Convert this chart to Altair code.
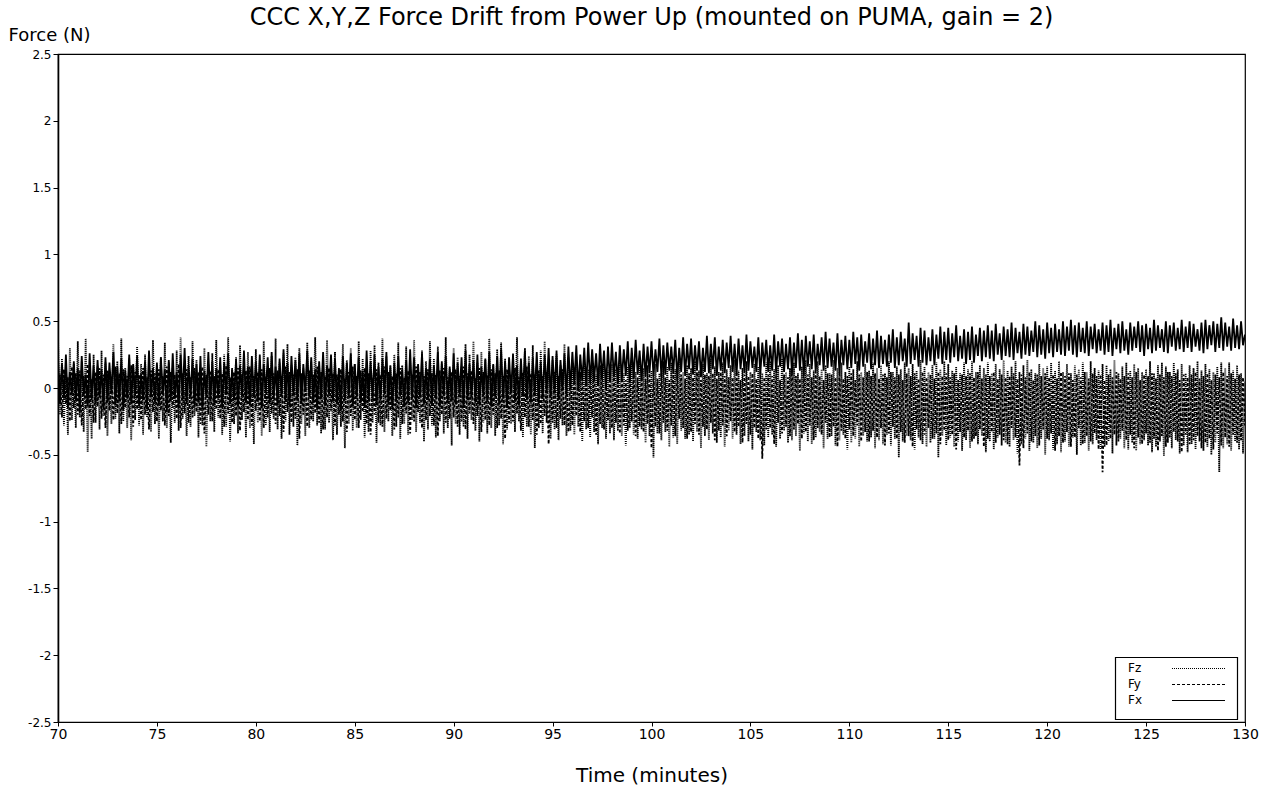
import altair as alt
import numpy as np
import pandas as pd

# sampling grid (minutes)
T_START = 70.0
T_STEP = 0.1

# Force readings in hundredths of a newton (cN), one row per minute (70..129) + final sample
FX_CN = [
    22, -12, 18, -8, 25, -15, 12, -5, 20, -10,
    15, -18, 24, -6, 10, -14, 26, -9, 17, -12,
    21, -7, 14, -16, 23, -11, 19, -4, 27, -13,
    16, -10, 22, -17, 13, -8, 25, -12, 18, -6,
    24, -14, 11, -9, 20, -16, 28, -7, 15, -11,
    19, -13, 23, -5, 14, -18, 21, -10, 26, -8,
    12, -15, 25, -9, 30, -12, 17, -6, 22, -14,
    18, -11, 24, -16, 13, -7, 27, -10, 20, -13,
    15, -8, 23, -15, 19, -5, 26, -12, 14, -9,
    21, -14, 17, -6, 28, -11, 16, -13, 24, -7,
    20, -10, 25, -15, 18, -4, 23, -12, 27, -8,
    16, -13, 22, -6, 29, -10, 19, -14, 24, -5,
    21, -9, 26, -12, 18, -3, 28, -7, 23, -11,
    14, -16, 20, -8, 27, -13, 17, -5, 25, -10,
    22, -12, 15, -17, 24, -9, 19, -6, 26, -14,
    18, -7, 23, -11, 13, -15, 28, -10, 20, -8,
    25, -13, 16, -9, 22, -5, 27, -12, 17, -16,
    19, -10, 24, -6, 14, -14, 21, -11, 29, -8,
    23, -15, 18, -7, 26, -12, 15, -9, 22, -13,
    17, -8, 27, -14, 20, -6, 24, -11, 16, -10,
    26, -12, 19, -5, 23, -15, 28, -9, 18, -7,
    21, -11, 25, -13, 16, -6, 22, -10, 27, -14,
    18, -7, 24, -12, 29, -8, 20, -15, 23, -4,
    25, -10, 17, -13, 22, -6, 28, -9, 19, -11,
    23, -5, 27, -12, 20, -8, 25, -3, 30, -7,
    24, -4, 28, -9, 21, -2, 26, -6, 31, -1,
    27, 3, 32, -2, 25, 5, 30, 1, 34, 4,
    29, 6, 26, 2, 33, 7, 28, 0, 31, 5,
    34, 8, 27, 3, 32, 6, 29, 9, 35, 4,
    30, 7, 36, 10, 28, 5, 33, 8, 31, 11,
    35, 9, 29, 12, 37, 8, 32, 10, 34, 13,
    31, 11, 36, 7, 30, 12, 38, 9, 33, 14,
    37, 10, 32, 13, 35, 8, 30, 12, 39, 11,
    33, 14, 38, 9, 31, 13, 36, 11, 34, 15,
    39, 12, 33, 10, 37, 14, 32, 11, 40, 13,
    35, 15, 31, 12, 38, 10, 34, 16, 36, 12,
    32, 13, 40, 11, 35, 16, 37, 12, 33, 14,
    38, 11, 34, 15, 41, 13, 36, 10, 39, 16,
    35, 14, 40, 12, 33, 17, 38, 13, 42, 15,
    37, 16, 34, 13, 41, 11, 36, 17, 39, 14,
    36, 15, 42, 18, 38, 13, 40, 16, 35, 19,
    41, 14, 37, 17, 43, 15, 39, 18, 36, 16,
    40, 19, 44, 15, 38, 17, 42, 20, 37, 16,
    49, 18, 41, 21, 39, 16, 45, 19, 43, 17,
    38, 20, 44, 17, 40, 22, 46, 18, 42, 21,
    45, 19, 41, 23, 47, 20, 39, 22, 44, 18,
    42, 21, 46, 19, 40, 24, 45, 20, 43, 23,
    47, 22, 43, 20, 48, 25, 41, 21, 46, 24,
    44, 23, 49, 21, 45, 26, 42, 22, 48, 25,
    46, 24, 43, 27, 50, 23, 47, 25, 44, 22,
    49, 26, 45, 23, 48, 27, 44, 25, 50, 24,
    46, 28, 51, 25, 47, 23, 49, 27, 45, 26,
    50, 24, 46, 29, 48, 26, 44, 28, 49, 25,
    47, 27, 51, 24, 45, 29, 48, 26, 50, 28,
    44, 25, 49, 28, 46, 30, 50, 27, 47, 24,
    48, 29, 45, 26, 51, 28, 47, 30, 44, 27,
    50, 26, 47, 31, 49, 28, 45, 29, 51, 27,
    46, 30, 50, 27, 48, 31, 44, 28, 49, 26,
    51, 29, 47, 32, 50, 27, 48, 30, 53, 28,
    49, 31, 46, 28, 52, 30, 47, 29, 50, 32,
    40,
]

FY_CN = [
    -18, 10, -22, 14, -12, 8, -25, 16, -15, 11,
    -20, 13, -28, 9, -16, 18, -21, 7, -26, 12,
    -14, 15, -23, 10, -30, 13, -17, 8, -24, 16,
    -19, 11, -27, 14, -15, 9, -22, 17, -29, 12,
    -16, 10, -24, 15, -20, 8, -31, 13, -18, 11,
    -25, 14, -17, 9, -28, 16, -21, 12, -15, 10,
    -23, 18, -30, 11, -19, 14, -26, 8, -22, 15,
    -18, 12, -27, 16, -34, 10, -20, 13, -25, 9,
    -16, 14, -23, 11, -29, 17, -19, 8, -26, 12,
    -21, 15, -32, 10, -18, 13, -24, 16, -28, 9,
    -17, 12, -25, 14, -30, 8, -22, 15, -19, 11,
    -27, 13, -21, 9, -33, 16, -18, 12, -26, 10,
    -23, 14, -38, 11, -20, 8, -29, 13, -24, 10,
    -19, 16, -26, 12, -31, 9, -22, 15, -17, 11,
    -28, 10, -20, 14, -25, 7, -33, 12, -21, 16,
    -24, 9, -30, 13, -18, 15, -27, 11, -35, 8,
    -20, 14, -26, 10, -29, 16, -23, 12, -17, 9,
    -31, 11, -22, 15, -27, 8, -19, 13, -34, 10,
    -25, 16, -18, 12, -30, 9, -24, 14, -21, 11,
    -28, 10, -36, 13, -20, 15, -26, 8, -23, 12,
    -22, 14, -29, 9, -25, 16, -31, 11, -19, 13,
    -27, 8, -21, 15, -33, 12, -24, 10, -28, 14,
    -20, 11, -30, 13, -23, 9, -38, 14, -26, 10,
    -25, 15, -19, 8, -32, 12, -22, 16, -29, 11,
    -24, 10, -35, 13, -27, 9, -21, 12, -42, 8,
    -26, 12, -30, 9, -23, 14, -28, 7, -33, 11,
    -28, 9, -21, 12, -33, 7, -25, 10, -30, 6,
    -22, 11, -35, 8, -27, 12, -31, 5, -24, 9,
    -30, 10, -26, 7, -34, 11, -28, 6, -32, 9,
    -25, 12, -36, 8, -29, 10, -33, 7, -27, 11,
    -45, 10, -29, 7, -34, 11, -26, 8, -32, 6,
    -28, 12, -36, 9, -23, 10, -30, 7, -38, 11,
    -33, 8, -27, 12, -35, 6, -29, 10, -31, 9,
    -26, 11, -39, 7, -32, 12, -28, 9, -36, 8,
    -25, 8, -33, 12, -29, 6, -41, 10, -27, 9,
    -35, 11, -30, 7, -38, 12, -53, 8, -31, 10,
    -30, 9, -42, 11, -26, 6, -34, 10, -29, 8,
    -36, 12, -31, 9, -27, 7, -38, 11, -33, 10,
    -28, 8, -39, 12, -30, 9, -35, 6, -26, 11,
    -37, 10, -29, 8, -44, 12, -32, 7, -38, 9,
    -31, 11, -36, 6, -28, 10, -40, 8, -33, 12,
    -40, 9, -32, 11, -37, 7, -30, 10, -43, 8,
    -34, 12, -29, 8, -38, 10, -33, 6, -41, 11,
    -36, 9, -44, 11, -31, 7, -39, 12, -35, 8,
    -30, 10, -38, 7, -34, 12, -42, 9, -32, 11,
    -39, 8, -35, 11, -46, 6, -33, 10, -37, 9,
    -32, 11, -40, 8, -36, 12, -31, 7, -44, 10,
    -38, 9, -33, 12, -41, 7, -35, 10, -39, 8,
    -42, 9, -30, 11, -37, 7, -58, 10, -45, 8,
    -34, 12, -40, 6, -36, 10, -43, 9, -31, 11,
    -38, 8, -34, 10, -47, 7, -36, 12, -41, 9,
    -33, 11, -44, 6, -37, 10, -30, 8, -42, 12,
    -36, 7, -40, 11, -34, 9, -46, 10, -63, 6,
    -43, 10, -38, 8, -35, 12, -40, 7, -32, 9,
    -39, 11, -35, 8, -45, 12, -37, 6, -42, 10,
    -34, 9, -41, 11, -38, 7, -47, 10, -36, 8,
    -44, 12, -37, 9, -33, 11, -40, 6, -48, 10,
    -35, 8, -42, 10, -39, 12, -36, 7, -45, 9,
    -41, 11, -38, 6, -46, 10, -34, 8, -43, 12,
    -37, 9, -44, 11, -35, 7, -41, 10, -39, 8,
    -28,
]

FZ_CN = [
    38, -20, 22, -28, 15, -35, 30, -24, 18, -30,
    35, -22, 20, -33, 37, -48, 14, -38, 25, -26,
    16, -31, 28, -21, 19, -36, 13, -27, 33, -23,
    20, -34, 37, -25, 15, -30, 22, -39, 17, -24,
    31, -28, 18, -35, 25, -22, 14, -33, 36, -27,
    17, -38, 23, -25, 34, -30, 19, -41, 15, -26,
    28, -32, 38, -23, 16, -36, 24, -29, 35, -21,
    21, -37, 14, -28, 30, -44, 18, -25, 26, -33,
    36, -22, 17, -35, 25, -29, 38, -40, 15, -27,
    23, -34, 32, -24, 18, -37, 27, -30, 14, -42,
    29, -26, 21, -36, 35, -28, 16, -33, 24, -23,
    37, -31, 19, -38, 26, -25, 33, -35, 17, -29,
    23, -43, 30, -27, 15, -36, 34, -30, 20, -25,
    38, -28, 16, -34, 24, -31, 36, -26, 19, -39,
    27, -35, 14, -29, 33, -45, 21, -27, 30, -32,
    18, -30, 35, -24, 22, -37, 15, -33, 28, -26,
    32, -41, 19, -28, 37, -33, 24, -25, 16, -36,
    25, -29, 34, -38, 17, -27, 31, -35, 21, -24,
    36, -33, 15, -26, 28, -40, 20, -31, 35, -28,
    22, -37, 31, -25, 18, -34, 38, -30, 14, -43,
    30, -27, 23, -35, 16, -29, 33, -38, 25, -24,
    35, -32, 19, -40, 27, -26, 21, -34, 37, -30,
    17, -36, 29, -28, 34, -42, 22, -31, 15, -27,
    26, -33, 38, -25, 20, -37, 30, -29, 24, -35,
    32, -45, 16, -30, 28, -34, 35, -26, 19, -38,
    21, -31, 25, -39, 17, -28, 33, -36, 23, -32,
    16, -35, 24, -29, 12, -40, 19, -31, 14, -37,
    21, -33, 10, -42, 17, -30, 23, -38, 13, -34,
    18, -39, 14, -32, 20, -36, 11, -43, 16, -30,
    22, -35, 12, -38, 19, -31, 15, -41, 17, -36,
    13, -52, 18, -34, 11, -39, 20, -33, 16, -44,
    19, -37, 14, -42, 21, -32, 12, -38, 17, -35,
    15, -40, 20, -33, 13, -45, 18, -36, 11, -39,
    22, -34, 16, -41, 12, -37, 19, -44, 14, -32,
    17, -38, 21, -35, 13, -42, 15, -36, 20, -40,
    12, -46, 18, -33, 16, -39, 11, -43, 19, -37,
    20, -35, 14, -44, 17, -38, 22, -32, 12, -41,
    15, -39, 19, -36, 11, -47, 16, -34, 21, -40,
    18, -42, 13, -37, 20, -33, 14, -45, 17, -38,
    11, -36, 21, -43, 15, -39, 19, -35, 12, -46,
    16, -41, 14, -38, 20, -44, 12, -36, 18, -40,
    13, -37, 19, -45, 15, -39, 17, -42, 11, -35,
    20, -43, 12, -38, 16, -52, 14, -40, 19, -36,
    15, -39, 18, -46, 13, -37, 21, -42, 16, -44,
    12, -41, 17, -38, 19, -52, 14, -36, 20, -43,
    18, -37, 13, -44, 16, -40, 11, -47, 19, -39,
    14, -45, 20, -38, 12, -42, 17, -36, 15, -48,
    19, -40, 11, -46, 18, -37, 14, -43, 21, -41,
    13, -44, 16, -39, 20, -49, 12, -42, 17, -38,
    21, -47, 14, -41, 11, -45, 18, -38, 15, -50,
    16, -39, 19, -46, 13, -42, 20, -48, 12, -40,
    18, -44, 11, -37, 17, -50, 14, -43, 19, -41,
    12, -47, 20, -42, 15, -39, 13, -46, 18, -44,
    17, -40, 14, -49, 21, -43, 11, -38, 16, -45,
    19, -46, 13, -41, 18, -47, 15, -42, 12, -39,
    14, -43, 20, -48, 11, -44, 17, -40, 19, -51,
    16, -41, 12, -45, 19, -39, 14, -49, 18, -43,
    11, -48, 17, -42, 15, -46, 20, -40, 13, -47,
    18, -44, 14, -50, 12, -41, 16, -63, 19, -45,
    15, -42, 19, -47, 13, -40, 17, -46, 11, -49,
    5,
]

SERIES = ["Fz", "Fy", "Fx"]
DASHES = [[1, 1], [3, 2], [1, 0]]
X_TICKS = [70, 75, 80, 85, 90, 95, 100, 105, 110, 115, 120, 125, 130]
Y_TICKS = [-2.5, -2, -1.5, -1, -0.5, 0, 0.5, 1, 1.5, 2, 2.5]

FONT = "DejaVu Sans"
PLOT_W, PLOT_H = 1187, 668

frames = []
for name, vals in [("Fz", FZ_CN), ("Fy", FY_CN), ("Fx", FX_CN)]:
    t = np.round(T_START + T_STEP * np.arange(len(vals)), 1)
    frames.append(pd.DataFrame({"t": t, "v": np.array(vals) / 100.0, "s": name}))
df = pd.concat(frames, ignore_index=True)

lines = (
    alt.Chart(df)
    .mark_line(color="black", strokeWidth=1.8, clip=True)
    .encode(
        x=alt.X(
            "t:Q",
            scale=alt.Scale(domain=[70, 130], nice=False, zero=False),
            axis=alt.Axis(
                values=X_TICKS,
                title="Time (minutes)",
                titleFontSize=20,
                titleFontWeight="normal",
                titleBaseline="alphabetic",
                titleAnchor="middle",
                titleY=59,
                labelFontSize=14,
                labelPadding=1,
                tickSize=4,
                labelFlush=False,
            ),
        ),
        y=alt.Y(
            "v:Q",
            scale=alt.Scale(domain=[-2.5, 2.5], nice=False, zero=False),
            axis=alt.Axis(
                values=Y_TICKS,
                title="Force (N)",
                titleAngle=0,
                titleAlign="left",
                titleBaseline="alphabetic",
                titleFontSize=18,
                titleFontWeight="normal",
                titleX=-50,
                titleY=-14,
                labelFontSize=12,
                labelPadding=2,
                tickSize=5,
                labelFlush=False,
                domainWidth=1.6,
                labelExpr="datum.value + ''",
            ),
        ),
        strokeDash=alt.StrokeDash(
            "s:N", scale=alt.Scale(domain=SERIES, range=DASHES), legend=None
        ),
    )
)

# legend box drawn in the lower-right corner of the plot
LEG_X0, LEG_X1, LEG_Y0, LEG_Y1 = 1057, 1179, 603, 665
legend_layers = [
    alt.Chart(pd.DataFrame({"k": [0]}))
    .mark_rect(fill="white", stroke="black", strokeWidth=1.2)
    .encode(
        x=alt.value(LEG_X0 + 0.5),
        x2=alt.value(LEG_X1 + 0.5),
        y=alt.value(LEG_Y0 + 0.5),
        y2=alt.value(LEG_Y1 + 0.5),
    )
]
for i, (name, dash) in enumerate(zip(SERIES, DASHES)):
    row_y = LEG_Y0 + 11 + 16 * i
    row_df = pd.DataFrame({"s": [name]})
    legend_layers.append(
        alt.Chart(row_df)
        .mark_text(align="left", baseline="middle", fontSize=12, font=FONT, color="black")
        .encode(text="s:N", x=alt.value(LEG_X0 + 13), y=alt.value(row_y))
    )
    legend_layers.append(
        alt.Chart(row_df)
        .mark_rule(color="black", strokeWidth=1, strokeDash=dash)
        .encode(
            x=alt.value(LEG_X0 + 57),
            x2=alt.value(LEG_X0 + 110),
            y=alt.value(row_y + 0.5),
        )
    )

chart = (
    alt.layer(lines, *legend_layers)
    .properties(
        width=PLOT_W,
        height=PLOT_H,
        title=alt.TitleParams(
            "CCC X,Y,Z Force Drift from Power Up (mounted on PUMA, gain = 2)",
            fontSize=24,
            fontWeight="normal",
            font=FONT,
            anchor="middle",
            baseline="alphabetic",
            offset=1,
            dy=24,
        ),
        autosize=alt.AutoSizeParams(type="none"),
        padding={"left": 58, "top": 54, "right": 29, "bottom": 64},
        background="white",
    )
    .configure_view(stroke="black", strokeWidth=1.2)
    .configure_axis(
        domainColor="black",
        tickColor="black",
        labelColor="black",
        titleColor="black",
        grid=False,
        labelFont=FONT,
        titleFont=FONT,
    )
)

chart.save("out.html", embed_options={"renderer": "svg", "actions": False})
